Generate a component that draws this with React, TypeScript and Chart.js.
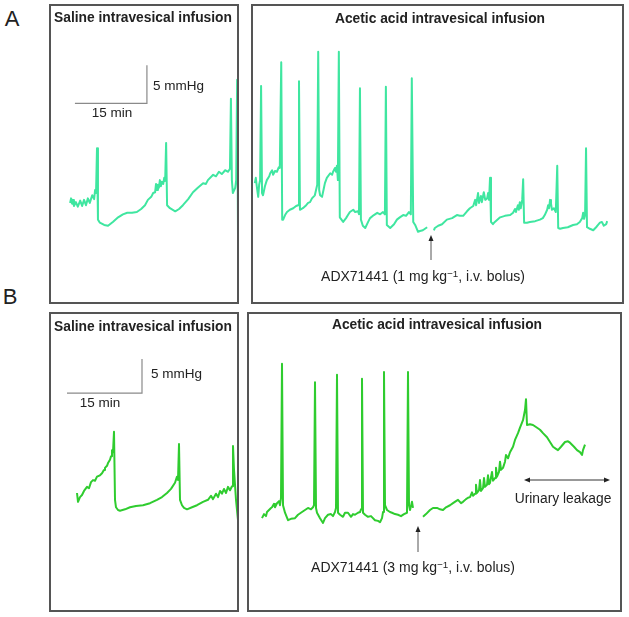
import { useEffect, useRef } from 'react';
import { Chart, registerables } from 'chart.js';

Chart.register(...registerables);

// ---------- Data: [time (min), bladder pressure (mmHg)] ----------
const aSalineTrace: [number, number][] = [
  [4.4, 13.3], [4.6, 13.9], [4.8, 13.2], [5.0, 13.7], [5.2, 12.9], [5.6, 13.4], [6.0, 12.8], [6.5, 13.6],
  [6.9, 12.9], [7.3, 13.7], [7.7, 13.0], [8.1, 13.9], [8.5, 13.3], [9.0, 14.3], [9.4, 13.8], [9.6, 15.0],
  [9.8, 14.6], [10.0, 20.5], [10.2, 11.1], [10.6, 10.7], [11.5, 10.4], [12.3, 10.3], [13.3, 10.8], [14.4, 11.4],
  [15.4, 11.8], [16.3, 12.0], [17.3, 12.0], [18.3, 12.1], [19.2, 12.5], [20.0, 13.0], [20.6, 13.7], [21.3, 14.1],
  [21.7, 14.6], [22.1, 14.7], [22.3, 15.8], [22.5, 15.0], [22.7, 15.7], [22.9, 15.3], [23.1, 16.3], [23.3, 15.5],
  [23.5, 16.1], [23.8, 15.8], [24.0, 16.6], [24.2, 16.2], [24.4, 21.2], [24.6, 13.0], [25.2, 12.6], [26.3, 12.2],
  [27.1, 12.5], [27.9, 13.0], [29.0, 13.8], [30.0, 14.7], [31.0, 15.3], [32.1, 15.9], [32.7, 15.8], [33.1, 16.3],
  [34.2, 17.0], [34.8, 16.8], [35.4, 17.4], [36.0, 17.1], [36.7, 17.6], [37.3, 17.4], [37.7, 17.8], [37.9, 27.0],
  [38.1, 16.3], [38.3, 14.6], [38.8, 15.3], [39.0, 16.3], [39.2, 29.5], [39.4, 6.2],
];

const aAceticBeforeDrug: [number, number][] = [
  [0.8, 15.9], [1.0, 16.6], [1.3, 15.0], [1.5, 14.1], [1.7, 15.7], [1.9, 16.3], [2.1, 28.7], [2.3, 14.6],
  [2.5, 14.3], [2.9, 15.5], [3.3, 16.3], [3.8, 16.8], [4.0, 17.2], [4.4, 17.6], [4.6, 17.0], [5.0, 17.5],
  [5.4, 17.4], [5.8, 18.0], [6.0, 17.9], [6.3, 31.8], [6.5, 11.1], [6.7, 11.1], [7.1, 11.7], [7.5, 12.1],
  [8.1, 12.4], [8.8, 12.6], [9.4, 12.9], [9.8, 13.0], [10.0, 29.3], [10.2, 12.4], [10.8, 12.6], [11.5, 13.0],
  [11.9, 13.3], [12.3, 13.4], [12.7, 13.9], [13.3, 14.3], [13.8, 15.7], [14.0, 33.2], [14.2, 15.0], [14.4, 14.3],
  [14.8, 14.1], [15.2, 15.3], [15.4, 15.9], [15.8, 16.6], [16.5, 17.2], [16.9, 17.0], [17.1, 17.4], [17.5, 17.9],
  [17.7, 17.4], [17.9, 18.2], [18.1, 16.3], [18.3, 33.2], [18.5, 11.4], [19.2, 10.8], [19.8, 11.3], [20.2, 11.7],
  [20.6, 12.1], [21.3, 12.4], [21.7, 12.1], [22.3, 12.2], [22.5, 11.8], [22.7, 28.4], [22.9, 11.1], [23.3, 10.3],
  [23.8, 10.0], [24.4, 10.8], [24.8, 11.3], [25.6, 11.7], [26.3, 12.0], [26.9, 11.8], [27.5, 12.1], [27.9, 11.8],
  [28.1, 28.6], [28.3, 10.4], [29.0, 10.0], [29.8, 10.5], [30.4, 11.1], [31.0, 11.4], [31.7, 11.7], [32.3, 11.6],
  [32.9, 12.1], [33.3, 11.8], [33.5, 29.7], [33.8, 10.8], [34.2, 10.4], [34.8, 9.5], [35.2, 9.6], [35.8, 9.7],
  [36.7, 10.1],
];

const aAceticAfterDrug: [number, number][] = [
  [38.1, 9.7], [38.3, 10.0], [39.0, 10.3], [39.8, 10.5], [40.8, 11.1], [41.9, 11.3], [42.9, 11.7], [43.5, 11.6],
  [44.2, 11.6], [45.0, 12.2], [45.6, 12.6], [46.3, 12.9], [46.7, 13.7], [46.9, 13.0], [47.3, 14.6], [47.5, 13.3],
  [47.9, 14.2], [48.1, 13.4], [48.5, 14.7], [48.8, 13.7], [49.2, 13.9], [49.4, 14.6], [49.6, 13.7], [49.8, 16.6],
  [50.0, 10.8], [50.4, 10.5], [50.8, 10.8], [51.9, 11.4], [52.9, 11.6], [54.0, 11.7], [54.6, 12.0], [55.0, 12.5],
  [55.2, 12.1], [55.6, 13.0], [55.8, 12.4], [56.0, 13.4], [56.2, 12.6], [56.5, 13.7], [56.7, 16.4], [56.9, 10.7],
  [57.5, 10.7], [58.1, 10.8], [59.2, 10.9], [60.2, 11.1], [60.8, 11.3], [61.2, 11.7], [61.7, 12.4], [61.9, 13.0],
  [62.1, 12.6], [62.3, 13.7], [62.5, 13.2], [62.7, 12.4], [63.1, 12.6], [63.5, 12.1], [63.8, 18.2], [64.0, 10.0],
  [64.4, 9.9], [65.0, 10.0], [66.0, 10.1], [67.1, 10.4], [67.9, 10.5], [68.5, 10.8], [69.0, 11.3], [69.2, 12.0],
  [69.4, 11.2], [69.6, 11.7], [69.8, 20.5], [70.0, 10.1], [70.6, 9.9], [71.3, 9.7], [71.9, 10.1], [72.3, 10.4],
  [72.7, 10.7], [73.1, 10.8], [73.5, 10.3], [74.0, 10.5], [74.2, 10.9],
];

const bSalineTrace: [number, number][] = [
  [5.6, 17.5], [5.8, 16.2], [6.2, 16.9], [6.6, 17.2], [7.0, 17.8], [7.6, 18.4], [8.0, 18.2], [8.4, 19.1],
  [8.8, 19.4], [9.2, 19.3], [9.6, 19.9], [10.2, 20.1], [10.6, 20.4], [11.0, 20.9], [11.2, 21.2], [11.6, 21.5],
  [11.8, 21.9], [12.2, 22.4], [12.4, 22.9], [12.6, 23.8], [12.8, 23.5], [13.0, 26.5], [13.2, 16.5], [13.4, 15.4],
  [13.8, 15.0], [14.2, 14.9], [15.2, 15.1], [16.2, 15.4], [17.4, 15.6], [18.8, 15.7], [20.2, 16.0], [21.6, 16.5],
  [22.6, 16.9], [23.6, 17.5], [24.4, 18.1], [25.2, 19.0], [25.6, 19.9], [25.8, 19.4], [26.0, 24.7], [26.2, 16.5],
  [26.6, 15.7], [27.0, 15.3], [27.6, 15.1], [28.6, 15.4], [29.6, 15.7], [30.8, 16.2], [31.8, 16.5], [32.4, 17.1],
  [32.8, 16.6], [33.4, 17.4], [33.8, 16.9], [34.2, 17.8], [34.6, 17.4], [35.0, 18.1], [35.4, 17.5], [35.8, 18.4],
  [36.2, 17.9], [36.6, 18.5], [36.8, 24.4], [37.0, 20.9], [37.4, 16.5], [37.8, 13.5],
];

const bAceticBeforeDrug: [number, number][] = [
  [3.0, 13.8], [3.4, 14.4], [3.8, 14.1], [4.0, 14.7], [4.4, 15.0], [4.8, 15.3], [5.0, 15.4], [5.4, 15.9],
  [5.6, 15.4], [6.0, 16.0], [6.4, 16.3], [6.6, 15.7], [6.8, 16.8], [7.0, 36.5], [7.2, 15.7], [7.6, 14.6],
  [8.2, 13.5], [8.8, 13.7], [9.6, 13.8], [10.2, 14.3], [11.0, 14.7], [11.6, 15.0], [12.2, 15.3], [12.8, 15.1],
  [13.2, 15.4], [13.4, 15.7], [13.6, 33.8], [13.8, 15.3], [14.0, 14.6], [14.6, 13.8], [15.2, 13.1], [15.6, 13.8],
  [16.2, 14.3], [16.8, 14.4], [17.2, 14.1], [17.6, 14.7], [17.8, 15.3], [18.0, 34.9], [18.2, 14.6], [18.6, 14.3],
  [19.2, 14.0], [19.6, 14.6], [20.2, 14.6], [20.8, 14.0], [21.2, 14.4], [21.6, 14.3], [22.2, 14.6], [22.6, 14.7],
  [22.8, 15.1], [23.0, 34.3], [23.2, 14.6], [23.6, 14.3], [24.2, 14.0], [24.8, 14.1], [25.6, 13.5], [26.2, 13.4],
  [26.6, 13.2], [27.0, 13.8], [27.2, 14.7], [27.4, 35.3], [27.6, 15.7], [28.0, 15.0], [28.6, 14.7], [29.0, 14.6],
  [29.6, 14.4], [30.2, 14.3], [30.8, 14.1], [31.4, 14.4], [32.0, 14.6], [32.2, 35.3], [32.4, 15.7], [32.6, 15.0],
  [32.8, 15.6], [33.0, 16.2], [33.2, 15.3],
];

const bAceticAfterDrug: [number, number][] = [
  [35.2, 14.0], [35.8, 14.4], [36.6, 15.0], [37.2, 15.3], [38.0, 15.3], [38.6, 15.1], [39.2, 15.0], [39.8, 15.4],
  [40.6, 15.7], [41.2, 16.0], [41.8, 16.3], [42.2, 16.5], [42.8, 16.0], [43.2, 16.2], [43.8, 16.6], [44.2, 16.8],
  [44.6, 16.9], [45.0, 17.6], [45.2, 17.1], [45.6, 17.4], [45.8, 18.7], [46.0, 17.5], [46.4, 17.9], [46.6, 19.4],
  [46.8, 17.8], [47.2, 18.2], [47.4, 19.7], [47.6, 18.4], [48.0, 18.7], [48.2, 20.1], [48.4, 18.8], [48.6, 19.0],
  [49.0, 20.6], [49.2, 19.3], [49.6, 19.7], [49.8, 21.2], [50.0, 19.9], [50.4, 20.6], [50.6, 22.1], [50.8, 20.9],
  [51.2, 21.2], [51.6, 22.1], [51.8, 23.1], [52.2, 22.6], [52.6, 23.5], [53.2, 24.3], [53.6, 25.3], [54.2, 26.3],
  [54.6, 27.1], [55.2, 28.2], [55.6, 29.7], [55.8, 31.3], [56.0, 27.5], [56.6, 27.6], [57.2, 27.5], [57.8, 27.2],
  [58.6, 26.8], [59.2, 26.3], [60.0, 25.7], [60.6, 25.0], [61.2, 24.3], [61.8, 24.0], [62.2, 23.8], [62.8, 24.3],
  [63.6, 25.0], [64.2, 25.1], [64.6, 24.9], [65.4, 24.3], [66.0, 23.8], [66.6, 23.5], [67.0, 23.1], [67.2, 23.8],
  [67.6, 24.6],
];

const scaleBarMinutes = 15;
const scaleBarMmHg = 5;

const FONT = '"Liberation Sans", Arial, Helvetica, sans-serif';
const COLOR_A = '#3fe6a0';
const COLOR_B = '#2fcc2f';

type PanelProps = {
  left: number;
  top: number;
  width: number;
  height: number;
  pxPerMin: number;
  pxPerMmHg: number;
  traces: [number, number][][];
  color: string;
  lineWidth: number;
  scaleBarAt?: [number, number];
};

function TracePanel(p: PanelProps) {
  const ref = useRef<HTMLCanvasElement>(null);
  useEffect(() => {
    if (!ref.current) return;
    const datasets: any[] = p.traces.map((tr) => ({
      data: tr.map(([x, y]) => ({ x, y })),
      borderColor: p.color,
      borderWidth: p.lineWidth,
      pointRadius: 0,
      tension: 0,
      fill: false,
      borderJoinStyle: 'round',
    }));
    if (p.scaleBarAt) {
      const [x0, y0] = p.scaleBarAt;
      datasets.push({
        data: [
          { x: x0, y: y0 },
          { x: x0 + scaleBarMinutes, y: y0 },
          { x: x0 + scaleBarMinutes, y: y0 + scaleBarMmHg },
        ],
        borderColor: '#8a8a8a',
        borderWidth: 1.2,
        pointRadius: 0,
        tension: 0,
        fill: false,
      });
    }
    const chart = new Chart(ref.current, {
      type: 'line',
      data: { datasets },
      options: {
        animation: false,
        responsive: false,
        maintainAspectRatio: false,
        events: [],
        layout: { padding: 0 },
        plugins: { legend: { display: false }, tooltip: { enabled: false }, title: { display: false } },
        scales: {
          x: { type: 'linear', display: false, min: 0, max: p.width / p.pxPerMin },
          y: { type: 'linear', display: false, min: 0, max: p.height / p.pxPerMmHg },
        },
      },
    });
    return () => chart.destroy();
  }, []);
  return (
    <>
      <canvas
        ref={ref}
        width={p.width}
        height={p.height}
        style={{ position: 'absolute', left: p.left, top: p.top, width: p.width, height: p.height }}
      />
      <div
        style={{
          position: 'absolute',
          left: p.left,
          top: p.top,
          width: p.width,
          height: p.height,
          border: '2px solid #555',
          boxSizing: 'border-box',
          pointerEvents: 'none',
        }}
      />
    </>
  );
}

function Label(props: { x: number; y: number; size: number; bold?: boolean; align?: 'left' | 'center'; children: any }) {
  return (
    <div
      style={{
        position: 'absolute',
        left: props.x,
        top: props.y,
        transform: props.align === 'left' ? 'translate(0,-50%)' : 'translate(-50%,-50%)',
        fontFamily: FONT,
        fontSize: props.size,
        fontWeight: props.bold ? 'bold' : 'normal',
        color: '#222',
        whiteSpace: 'nowrap',
        lineHeight: 1,
      }}
    >
      {props.children}
    </div>
  );
}

export default function App() {
  const sup = { fontSize: '0.7em', verticalAlign: '0.45em' } as const;
  return (
    <div style={{ position: 'absolute', left: 0, top: 0, width: 629, height: 617, background: '#fff', overflow: 'hidden' }}>
      <TracePanel left={49} top={4} width={190} height={300} pxPerMin={4.8} pxPerMmHg={7.6}
        traces={[aSalineTrace]} color={COLOR_A} lineWidth={2} scaleBarAt={[5.4, 26.4]} />
      <TracePanel left={251} top={4} width={373} height={300} pxPerMin={4.8} pxPerMmHg={7.6}
        traces={[aAceticBeforeDrug, aAceticAfterDrug]} color={COLOR_A} lineWidth={2} />
      <TracePanel left={49} top={312} width={190} height={300} pxPerMin={5} pxPerMmHg={6.8}
        traces={[bSalineTrace]} color={COLOR_B} lineWidth={2} scaleBarAt={[3.6, 32.2]} />
      <TracePanel left={247} top={312} width={375} height={300} pxPerMin={5} pxPerMmHg={6.8}
        traces={[bAceticBeforeDrug, bAceticAfterDrug]} color={COLOR_B} lineWidth={2} />

      <Label x={12} y={19} size={22} >A</Label>
      <Label x={10} y={297} size={22} >B</Label>

      <Label x={143} y={18} size={13.8} bold>Saline intravesical infusion</Label>
      <Label x={440} y={19} size={13.8} bold>Acetic acid intravesical infusion</Label>
      <Label x={143} y={327} size={13.8} bold>Saline intravesical infusion</Label>
      <Label x={437} y={325} size={13.8} bold>Acetic acid intravesical infusion</Label>

      <Label x={153} y={86} size={13.5} align="left">5 mmHg</Label>
      <Label x={112} y={113} size={13.5}>15 min</Label>
      <Label x={151} y={374} size={13.5} align="left">5 mmHg</Label>
      <Label x={100} y={403} size={13.5}>15 min</Label>

      <Label x={423} y={276} size={14}>ADX71441 (1 mg kg<span style={sup}>−1</span>, i.v. bolus)</Label>
      <Label x={413} y={567} size={14}>ADX71441 (3 mg kg<span style={sup}>−1</span>, i.v. bolus)</Label>
      <Label x={563} y={499} size={13.8}>Urinary leakage</Label>

      <svg width={629} height={617} style={{ position: 'absolute', left: 0, top: 0, pointerEvents: 'none' }}>
        <line x1={431} y1={239} x2={431} y2={260} stroke="#555" strokeWidth={1} />
        <polygon points="431,235 428.5,241 433.5,241" fill="#222" />
        <line x1={418} y1={530} x2={418} y2={552} stroke="#555" strokeWidth={1} />
        <polygon points="418,526 415.5,532 420.5,532" fill="#222" />
        <line x1={529} y1={480} x2={605} y2={480} stroke="#333" strokeWidth={1} />
        <polygon points="524,480 530,477.5 530,482.5" fill="#222" />
        <polygon points="610,480 604,477.5 604,482.5" fill="#222" />
      </svg>
    </div>
  );
}
